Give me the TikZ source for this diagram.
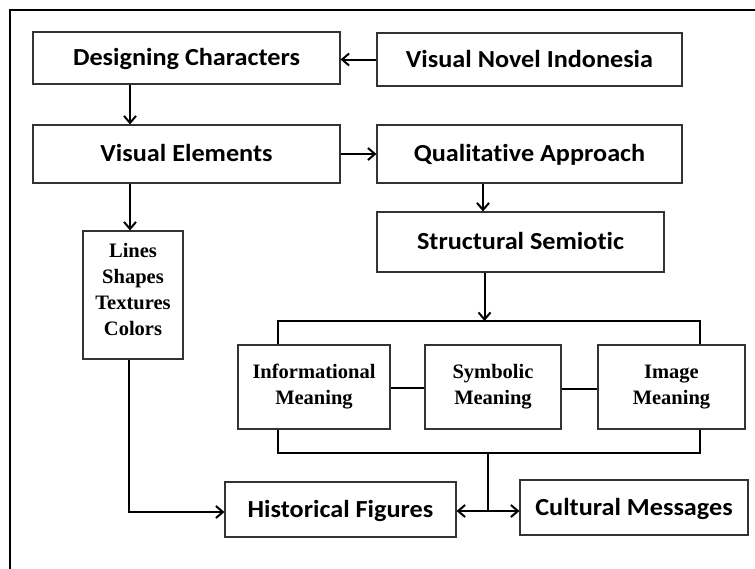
\documentclass[tikz,border=0pt]{standalone}
\usepackage{fontspec}
\newfontfamily\calib[Ligatures=NoCommon,FakeStretch=1.07]{Carlito}
\newfontfamily\timesf{Liberation Serif}
\usetikzlibrary{arrows.meta,calc}
\begin{document}
\begin{tikzpicture}[x=1pt,y=-1pt,
  box/.style={draw=black!80,line width=1.1pt,inner sep=0pt,fill=white},
  stxt/.style={font=\calib\bfseries\fontsize{24.5}{29}\selectfont,text height=18pt,text depth=3pt},
  rtxt/.style={font=\timesf\bfseries\fontsize{20.5}{26}\selectfont,align=center},
  conn/.style={line width=2pt,black},
  arr/.style={conn,-{Straight Barb[length=7pt,width=12pt,line width=2pt]}}]
\useasboundingbox (0,0) rectangle (755,568);
\clip (0,0) rectangle (755,568);
\fill[white] (0,0) rectangle (755,568);
\draw[line width=1.1pt] (10,10) rectangle (800,600);
% boxes
\node[box,minimum width=307pt,minimum height=52pt,stxt] (dc) at (186.5,58) {Designing Characters};
\node[box,minimum width=305pt,minimum height=53pt,stxt] (vni) at (529.5,59.5) {Visual Novel Indonesia};
\node[box,minimum width=307pt,minimum height=58pt,stxt] (ve) at (186.5,154) {Visual Elements};
\node[box,minimum width=305pt,minimum height=58pt,stxt] (qa) at (529.5,154) {Qualitative Approach};
\node[box,minimum width=287pt,minimum height=60pt,stxt] (ss) at (520.5,242) {Structural Semiotic};
\node[box,minimum width=100pt,minimum height=128pt] (ls) at (133,295) {};
\node[rtxt] (lst) at (133,289) {Lines\\Shapes\\Textures\\Colors};
\node[box,minimum width=152pt,minimum height=84pt,rtxt] (im) at (314,387) {Informational\\Meaning};
\node[box,minimum width=136pt,minimum height=84pt,rtxt] (sm) at (493,387) {Symbolic\\Meaning};
\node[box,minimum width=147pt,minimum height=84pt,rtxt] (gm) at (671.5,387) {Image\\Meaning};
\node[box,minimum width=231pt,minimum height=55pt,stxt] (hf) at (340.5,509.5) {Historical Figures};
\node[box,minimum width=228pt,minimum height=55pt,stxt] (cm) at (634,507.5) {Cultural Messages};
% helper coordinates
\coordinate (xa) at (130,0);
\coordinate (xb) at (483,0);
\coordinate (xc) at (484.5,321);
\coordinate (bl) at (278,0);
\coordinate (br) at (700,0);
\coordinate (tb) at (0,321);
\coordinate (bb) at (0,453);
\coordinate (jn) at (488,453);
\coordinate (row) at (0,511);
\coordinate (lr) at (0,512);
% connectors
\draw[arr] (vni.west) -- (dc.east |- vni.west);
\draw[arr] (dc.south -| xa) -- (ve.north -| xa);
\draw[arr] (ve) -- (qa);
\draw[arr] (qa.south -| xb) -- (ss.north -| xb);
\draw[arr] (ve.south -| xa) -- (ls.north -| xa);
\draw[arr] (ss.south -| xc) -- (xc);
\draw[conn] (im.north -| bl) -- (bl |- tb) -- (br |- tb) -- (gm.north -| br);
\draw[conn] (im.east |- 0,388) -- (sm.west |- 0,388);
\draw[conn] (sm.east |- 0,389) -- (gm.west |- 0,389);
\draw[conn] (im.south -| bl) -- (bl |- bb) -- (br |- bb) -- (gm.south -| br);
\draw[conn] (jn) -- (jn |- row);
\draw[arr] (jn |- row) -- (hf.east |- row);
\draw[arr] (jn |- row) -- (cm.west |- row);
\draw[arr] (ls.south -| 129,0) -- (129,512) -- (hf.west |- lr);
\end{tikzpicture}
\end{document}
